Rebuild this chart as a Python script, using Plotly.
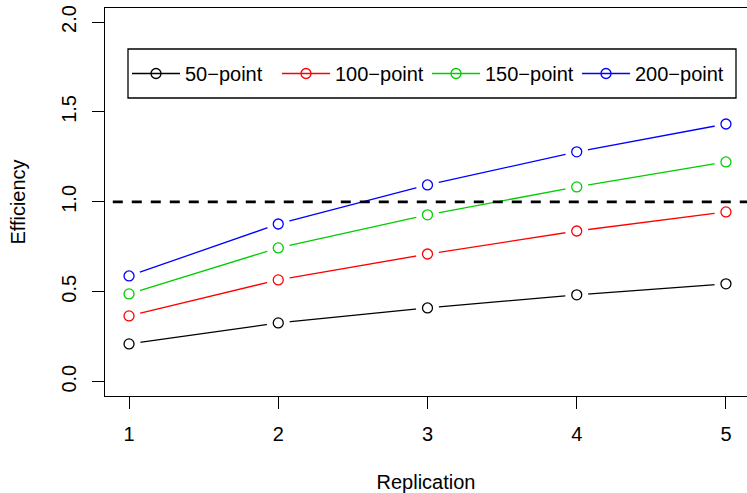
import plotly.graph_objects as go

replication = [1, 2, 3, 4, 5]
series_names = ["50\u2212point", "100\u2212point", "150\u2212point", "200\u2212point"]
eff_50 = [0.21, 0.327, 0.41, 0.483, 0.544]
eff_100 = [0.366, 0.566, 0.71, 0.838, 0.944]
eff_150 = [0.488, 0.744, 0.928, 1.083, 1.222]
eff_200 = [0.588, 0.877, 1.094, 1.278, 1.433]
reference_level = 1.0
y_ticks = [0.0, 0.5, 1.0, 1.5, 2.0]

colors = ["#000000", "#FF0000", "#00CD00", "#0000FF"]
all_series = [eff_50, eff_100, eff_150, eff_200]

FONT = "Liberation Sans, Arial, Helvetica, sans-serif"
fig = go.Figure()

# connecting lines (no legend)
for vals, col in zip(all_series, colors):
    fig.add_trace(go.Scatter(x=replication, y=vals, mode="lines",
                             line=dict(color=col, width=1.3),
                             showlegend=False, hoverinfo="skip"))
# white masks to create the gaps of R's type="b"
for vals in all_series:
    fig.add_trace(go.Scatter(x=replication, y=vals, mode="markers",
                             marker=dict(symbol="circle", size=23, color="white",
                                         line=dict(width=0)),
                             showlegend=False, hoverinfo="skip"))
# dashed reference line
fig.add_trace(go.Scatter(x=[0, 6], y=[reference_level, reference_level], mode="lines",
                         line=dict(color="black", width=2.6, dash="10px,9px"),
                         showlegend=False, hoverinfo="skip"))
# open circle markers
for vals, col, name in zip(all_series, colors, series_names):
    fig.add_trace(go.Scatter(x=replication, y=vals, mode="markers", name=name,
                             marker=dict(symbol="circle-open", size=10,
                                         color=col, line=dict(width=1.3, color=col)),
                             showlegend=False))
# legend entries
for col, name in zip(colors, series_names):
    fig.add_trace(go.Scatter(x=[None], y=[None], mode="lines+markers", name=name,
                             line=dict(color=col, width=1.3),
                             marker=dict(symbol="circle-open", size=10,
                                         color=col, line=dict(width=1.3, color=col))))

W, H = 747, 493
ML, MT, MB = 105, 8, 97
PW, PH = W - ML, H - MT - MB


def px(xp):
    return (xp - ML) / PW


def py(yp):
    return (H - MB - yp) / PH


fig.add_shape(type="rect", xref="paper", yref="paper",
              x0=px(128), x1=px(736), y0=py(98), y1=py(49),
              line=dict(color="black", width=1.3), fillcolor="white", layer="above")

fig.update_layout(
    width=W, height=H,
    margin=dict(l=ML, r=0, t=MT, b=MB, autoexpand=False),
    paper_bgcolor="white", plot_bgcolor="white",
    font=dict(family=FONT, size=20, color="black"),
    showlegend=True,
    legend=dict(orientation="h", x=px(127), y=py(73.5),
                xanchor="left", yanchor="middle",
                bgcolor="rgba(0,0,0,0)", borderwidth=0,
                entrywidth=87, entrywidthmode="pixels", itemwidth=48,
                font=dict(family=FONT, size=20, color="black")),
    xaxis=dict(range=[0.839, 5.141], tickvals=replication, automargin=False,
               showgrid=False, zeroline=False,
               showline=True, linecolor="black", linewidth=1.3, mirror=True,
               ticks="outside", ticklen=12, tickwidth=1.3, tickcolor="black",
               ticklabelstandoff=8,
               title=dict(text="Replication", standoff=30,
                          font=dict(family=FONT, size=20))),
    yaxis=dict(range=[-0.0795, 2.078], tickvals=y_ticks, tickformat=".1f",
               tickangle=-90, automargin=False, ticklabeloverflow="allow",
               showgrid=False, zeroline=False,
               showline=True, linecolor="black", linewidth=1.3, mirror=False,
               ticks="outside", ticklen=12, tickwidth=1.3, tickcolor="black",
               ticklabelstandoff=8,
               title=dict(text="Efficiency", standoff=26,
                          font=dict(family=FONT, size=20))),
)

fig.write_html("out.html", config={"displayModeBar": False},
               post_script="document.body.style.margin='0';")
